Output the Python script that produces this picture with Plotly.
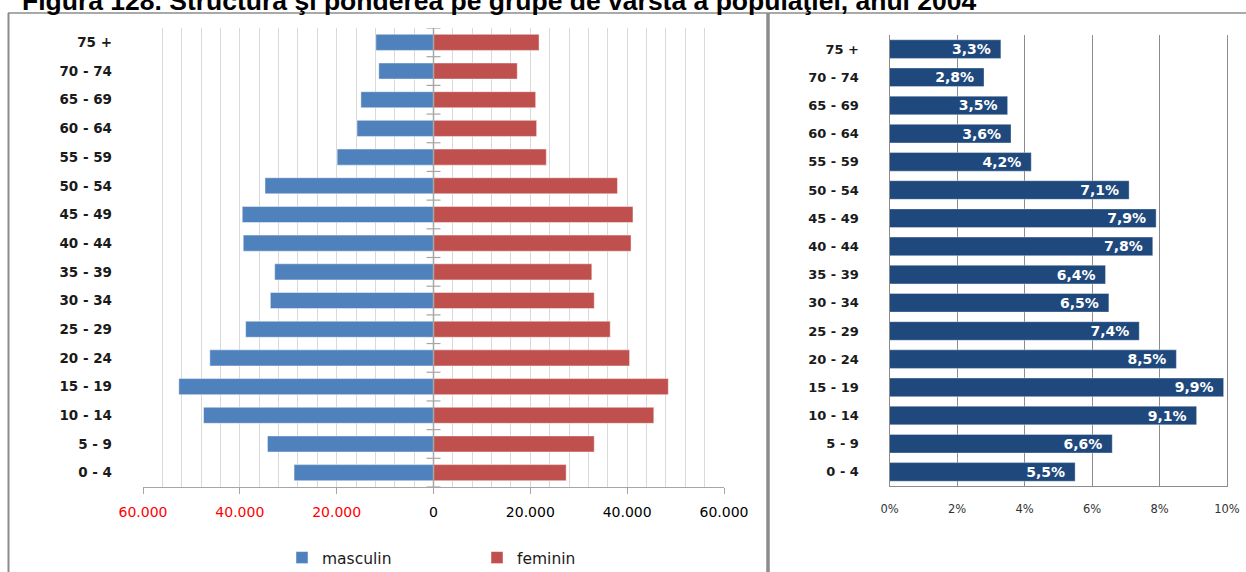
import plotly.graph_objects as go

# ---- data (bottom-up order of age groups) ----
age_groups = ["0 - 4", "5 - 9", "10 - 14", "15 - 19", "20 - 24", "25 - 29", "30 - 34",
              "35 - 39", "40 - 44", "45 - 49", "50 - 54", "55 - 59", "60 - 64",
              "65 - 69", "70 - 74", "75 +"]
masculin = [28800, 34300, 47500, 52600, 46200, 38800, 33700,
            32800, 39300, 39500, 34800, 19900, 15800, 15000, 11300, 11900]
feminin = [27400, 33200, 45500, 48500, 40500, 36500, 33200,
           32700, 40800, 41200, 38000, 23300, 21300, 21100, 17300, 21800]
pondere = [5.5, 6.6, 9.1, 9.9, 8.5, 7.4, 6.5, 6.4, 7.8, 7.9, 7.1, 4.2, 3.6, 3.5, 2.8, 3.3]

left_tickvals = [-60000, -40000, -20000, 0, 20000, 40000, 60000]
left_ticktext = ["60.000", "40.000", "20.000", "0", "20.000", "40.000", "60.000"]
right_tickvals = [0, 2, 4, 6, 8, 10]
right_ticktext = ["0%", "2%", "4%", "6%", "8%", "10%"]

title_text = "Figura 128. Structura şi ponderea pe grupe de vârstă a populaţiei, anul 2004"

# ---- styles ----
W, H = 1246, 572
BLUE = "#4F81BD"
RED = "#C0504D"
NAVY = "#1F497D"
FONT = "DejaVu Sans"


def px_x(p):
    return p / W


def px_y(p):
    return (H - p) / H


fig = go.Figure()

fig.add_trace(go.Bar(
    name="masculin", y=age_groups, x=[-v for v in masculin], orientation="h",
    width=0.56, marker=dict(color=BLUE, line=dict(color="rgba(255,255,255,0.45)", width=1)),
    xaxis="x", yaxis="y", hoverinfo="skip"))
fig.add_trace(go.Bar(
    name="feminin", y=age_groups, x=feminin, orientation="h",
    width=0.56, marker=dict(color=RED, line=dict(color="rgba(255,255,255,0.45)", width=1)),
    xaxis="x", yaxis="y", hoverinfo="skip"))

labels = [f"{v:.1f}".replace(".", ",") + "%" + "\u2002" for v in pondere]
fig.add_trace(go.Bar(
    name="pondere", y=age_groups, x=pondere, orientation="h", width=0.66,
    marker=dict(color=NAVY, line=dict(color="rgba(255,255,255,0.35)", width=1)),
    text=labels, textposition="inside", insidetextanchor="end", constraintext="none",
    textfont=dict(family=FONT, size=14, color="white", weight="bold"),
    xaxis="x2", yaxis="y2", showlegend=False, hoverinfo="skip"))

left_ticktext_styled = [
    (f"<span style='color:#FF0000'>{t}</span>" if v < 0 else t)
    for v, t in zip(left_tickvals, left_ticktext)
]

fig.update_layout(
    width=W, height=H, autosize=False,
    margin=dict(l=0, r=0, t=0, b=0, pad=0, autoexpand=False),
    paper_bgcolor="white", plot_bgcolor="white",
    barmode="overlay",
    font=dict(family=FONT, color="#000000"),
    xaxis=dict(
        domain=[px_x(143), px_x(724)], range=[-60000, 60000], anchor="y",
        automargin=False,
        tickmode="array", tickvals=left_tickvals, ticktext=left_ticktext_styled,
        tickfont=dict(family=FONT, size=14, color="#000000"),
        showgrid=True, gridcolor="#D9D9D9", gridwidth=1,
        minor=dict(tickmode="linear", tick0=0, dtick=4000, showgrid=True,
                   gridcolor="#D9D9D9", gridwidth=1, ticks=""),
        showline=True, linecolor="#A6A6A6", linewidth=1,
        ticks="outside", ticklen=6, tickcolor="#A6A6A6",
        ticklabelstandoff=6, zeroline=False, fixedrange=True),
    yaxis=dict(
        domain=[px_y(487), px_y(28)], anchor="x", type="category", automargin=False,
        categoryorder="array", categoryarray=age_groups, range=[-0.5, len(age_groups) - 0.5],
        showgrid=False, showline=False, ticks="", zeroline=False,
        tickfont=dict(family=FONT, size=13.5, color="#1a1a1a", weight="bold"),
        ticklabelstandoff=30, fixedrange=True),
    xaxis2=dict(
        domain=[px_x(889.5), px_x(1227)], range=[0, 10], anchor="y2", automargin=False,
        tickmode="array", tickvals=right_tickvals, ticktext=right_ticktext,
        tickfont=dict(family=FONT, size=11.5, color="#333333"),
        showgrid=True, gridcolor="#8C8C8C", gridwidth=1,
        showline=True, linecolor="#8C8C8C", linewidth=1, ticks="",
        ticklabelstandoff=12, zeroline=False, fixedrange=True),
    yaxis2=dict(
        domain=[px_y(486), px_y(35)], anchor="x2", type="category", automargin=False,
        categoryorder="array", categoryarray=age_groups, range=[-0.5, len(age_groups) - 0.5],
        showgrid=False, showline=True, mirror=True, linecolor="#8C8C8C", linewidth=1,
        ticks="", zeroline=False,
        tickfont=dict(family=FONT, size=13, color="#1a1a1a", weight="bold"),
        ticklabelstandoff=27, fixedrange=True),
    legend=dict(
        orientation="h", xref="container", yref="container",
        x=px_x(282), xanchor="left", y=px_y(558), yanchor="middle",
        font=dict(family=FONT, size=15.5, color="#1a1a1a"),
        entrywidth=150, entrywidthmode="pixels", bgcolor="rgba(0,0,0,0)",
        itemclick=False, itemdoubleclick=False),
    showlegend=True,
)

# title (partly cut off at the top, as in the reference)
fig.add_annotation(
    text=f"<b>{title_text}</b>", xref="paper", yref="paper",
    x=px_x(20), xanchor="left", y=px_y(1.5), yanchor="middle",
    showarrow=False, font=dict(family="Liberation Sans", size=26.5, color="#000000"))

# zero axis of the pyramid and its category tick marks
fig.add_shape(type="line", xref="x", yref="y domain", x0=0, x1=0, y0=0, y1=1,
              line=dict(color="#A6A6A6", width=1.5), layer="above")
for k in range(len(age_groups) + 1):
    fig.add_shape(type="line", xref="x", yref="y", xsizemode="pixel", xanchor=0,
                  x0=-7, x1=7, y0=k - 0.5, y1=k - 0.5,
                  line=dict(color="#A6A6A6", width=1.2), layer="above")

# frame lines of the composite figure
frame = "#8C8C8C"
fig.add_shape(type="line", xref="paper", yref="paper", x0=px_x(8), x1=1,
              y0=px_y(13), y1=px_y(13), line=dict(color=frame, width=1.5))
fig.add_shape(type="line", xref="paper", yref="paper", x0=px_x(8.5), x1=px_x(8.5),
              y0=px_y(13), y1=0, line=dict(color=frame, width=2))
fig.add_shape(type="line", xref="paper", yref="paper", x0=px_x(768), x1=px_x(768),
              y0=px_y(13), y1=0, line=dict(color=frame, width=3.5))

fig.write_html(
    "out.html",
    config={"displayModeBar": False},
    post_script="document.body.style.margin='0';document.body.style.overflow='hidden';",
)
